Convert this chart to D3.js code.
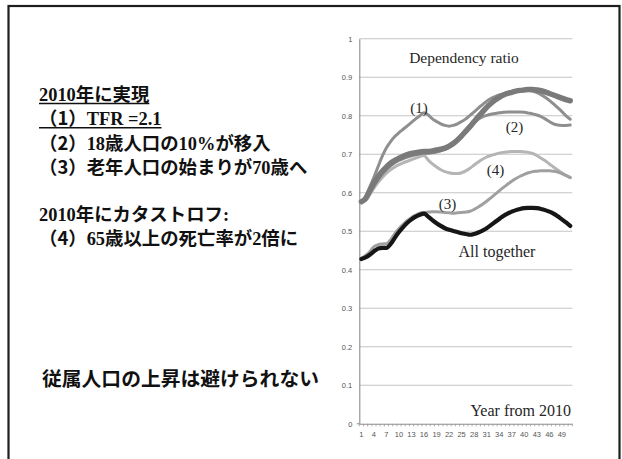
<!DOCTYPE html>
<html>
<head>
<meta charset="utf-8">
<script src="https://cdn.jsdelivr.net/npm/d3@7"></script>
<style>
  html, body { margin: 0; padding: 0; background: #fff; }
  svg { display: block; }
</style>
</head>
<body>
<svg id="slide" width="622" height="459"></svg>
<script>
// Years from 2010 (category index 1..51)
const years = d3.range(1, 52);
const xTickLabels = [1, 4, 7, 10, 13, 16, 19, 22, 25, 28, 31, 34, 37, 40, 43, 46, 49];
const yTicks = [0, 0.1, 0.2, 0.3, 0.4, 0.5, 0.6, 0.7, 0.8, 0.9, 1];

// Dependency ratio by scenario
const baseline = [0.577,0.585,0.605,0.625,0.642,0.656,0.667,0.677,0.684,0.690,0.695,0.699,0.702,0.704,0.706,0.707,0.707,0.709,0.711,0.713,0.716,0.721,0.728,0.737,0.748,0.760,0.772,0.785,0.798,0.810,0.822,0.832,0.841,0.848,0.854,0.858,0.861,0.864,0.866,0.867,0.868,0.868,0.867,0.865,0.862,0.858,0.854,0.850,0.846,0.842,0.839];
const tfr21 = [0.577,0.590,0.615,0.640,0.668,0.695,0.717,0.733,0.746,0.756,0.765,0.774,0.783,0.792,0.800,0.808,0.802,0.792,0.785,0.779,0.775,0.773,0.775,0.779,0.785,0.792,0.801,0.810,0.820,0.829,0.838,0.845,0.850,0.854,0.857,0.860,0.863,0.865,0.866,0.867,0.866,0.864,0.860,0.855,0.848,0.840,0.831,0.821,0.811,0.800,0.791];
const migration = [0.577,0.583,0.600,0.618,0.634,0.648,0.660,0.670,0.678,0.684,0.689,0.693,0.696,0.699,0.701,0.703,0.703,0.704,0.706,0.709,0.713,0.718,0.726,0.737,0.749,0.762,0.773,0.783,0.791,0.797,0.801,0.804,0.806,0.808,0.809,0.810,0.810,0.810,0.810,0.809,0.807,0.805,0.802,0.798,0.792,0.785,0.779,0.776,0.775,0.775,0.776];
const oldAge70 = [0.430,0.437,0.447,0.460,0.465,0.467,0.468,0.478,0.494,0.507,0.518,0.528,0.536,0.542,0.547,0.549,0.550,0.551,0.551,0.550,0.549,0.548,0.547,0.548,0.549,0.550,0.552,0.557,0.563,0.570,0.578,0.587,0.596,0.605,0.614,0.622,0.630,0.637,0.643,0.648,0.652,0.655,0.656,0.657,0.657,0.657,0.656,0.654,0.650,0.645,0.640];
const mortality2x = [0.577,0.580,0.595,0.612,0.627,0.640,0.651,0.660,0.667,0.673,0.678,0.682,0.686,0.690,0.694,0.697,0.685,0.675,0.667,0.660,0.655,0.652,0.650,0.650,0.652,0.657,0.664,0.672,0.680,0.687,0.693,0.697,0.700,0.703,0.705,0.706,0.707,0.707,0.707,0.706,0.705,0.702,0.697,0.690,0.683,0.675,0.667,0.659,0.652,0.645,0.639];
const allTogether = [0.428,0.432,0.439,0.448,0.455,0.457,0.457,0.467,0.483,0.498,0.511,0.522,0.531,0.538,0.543,0.546,0.538,0.529,0.521,0.514,0.508,0.504,0.501,0.498,0.495,0.493,0.491,0.493,0.497,0.502,0.508,0.516,0.524,0.532,0.540,0.546,0.551,0.555,0.558,0.560,0.561,0.561,0.560,0.558,0.555,0.551,0.546,0.539,0.531,0.523,0.514];

const svg = d3.select("#slide");

// slide frame
svg.append("rect")
  .attr("x", 8.5).attr("y", 6).attr("width", 611).attr("height", 470)
  .attr("fill", "none").attr("stroke", "#1e1e1e").attr("stroke-width", 2.2);

// ---- chart ----
const plot = { left: 359.3, right: 572.3, top: 38.8, bottom: 423.8 };
const x = d3.scaleBand().domain(years).range([plot.left, plot.right]).padding(0);
const y = d3.scaleLinear().domain([0, 1]).range([plot.bottom, plot.top]);
const cx = d => x(d) + x.bandwidth() / 2;

const chart = svg.append("g");

// horizontal gridlines
chart.append("g")
  .selectAll("line")
  .data(yTicks.filter(d => d > 0))
  .join("line")
  .attr("x1", plot.left).attr("x2", plot.right)
  .attr("y1", d => y(d)).attr("y2", d => y(d))
  .attr("stroke", "#c4c4c4").attr("stroke-width", 1.1);

// y axis
const yAxis = chart.append("g")
  .attr("transform", `translate(${plot.left},0)`)
  .call(d3.axisLeft(y).tickValues(yTicks).tickSize(0).tickPadding(7).tickFormat(d3.format("~g")));
yAxis.select(".domain").attr("stroke", "#8c8c8c").attr("stroke-width", 1.1);
yAxis.selectAll("text")
  .attr("font-family", "Liberation Sans, Arial, sans-serif")
  .attr("font-size", 7.5).attr("fill", "#555");

// small tick at zero
chart.append("line")
  .attr("x1", plot.left - 2.5).attr("x2", plot.left)
  .attr("y1", y(0)).attr("y2", y(0))
  .attr("stroke", "#8c8c8c");

// x axis
const xAxis = chart.append("g")
  .attr("transform", `translate(0,${plot.bottom})`)
  .call(d3.axisBottom(x).tickValues(xTickLabels).tickSize(0).tickPadding(8));
xAxis.select(".domain").attr("stroke", "#8c8c8c").attr("stroke-width", 1.1);
xAxis.selectAll("text")
  .attr("font-family", "Liberation Sans, Arial, sans-serif")
  .attr("font-size", 7.5).attr("fill", "#555");

// category boundary tick marks
chart.append("g")
  .selectAll("line")
  .data(years.concat([years.length + 1]))
  .join("line")
  .attr("x1", (d, i) => plot.left + i * x.bandwidth())
  .attr("x2", (d, i) => plot.left + i * x.bandwidth())
  .attr("y1", plot.bottom).attr("y2", plot.bottom + 2.5)
  .attr("stroke", "#9a9a9a").attr("stroke-width", 0.8);

// scenario lines
const line = d3.line()
  .x((d, i) => cx(years[i]))
  .y(d => y(d))
  .curve(d3.curveMonotoneX);

const series = [
  { values: mortality2x, color: "#b5b5b5", width: 3 },
  { values: migration, color: "#8f8f8f", width: 3 },
  { values: tfr21, color: "#8f8f8f", width: 3 },
  { values: baseline, color: "#7a7a7a", width: 5.5 },
  { values: oldAge70, color: "#a0a0a0", width: 3 },
  { values: allTogether, color: "#161616", width: 4.2 }
];

chart.append("g")
  .selectAll("path")
  .data(series)
  .join("path")
  .attr("d", d => line(d.values))
  .attr("fill", "none")
  .attr("stroke", d => d.color)
  .attr("stroke-width", d => d.width)
  .attr("stroke-linejoin", "round")
  .attr("stroke-linecap", "round");

// chart annotations
const serif = "Liberation Serif, 'Times New Roman', serif";
const notes = [
  { text: "Dependency ratio", x: 464, y: 63, size: 15.5, anchor: "middle" },
  { text: "(1)", x: 419, y: 112.5, size: 15, anchor: "middle" },
  { text: "(2)", x: 514.5, y: 132, size: 15, anchor: "middle" },
  { text: "(3)", x: 447.5, y: 209, size: 15, anchor: "middle" },
  { text: "(4)", x: 495.5, y: 174.5, size: 15, anchor: "middle" },
  { text: "All together", x: 497, y: 257, size: 16, anchor: "middle" },
  { text: "Year from 2010", x: 571, y: 415.5, size: 16, anchor: "end" }
];
chart.append("g")
  .selectAll("text")
  .data(notes)
  .join("text")
  .attr("x", d => d.x).attr("y", d => d.y)
  .attr("text-anchor", d => d.anchor)
  .attr("font-family", serif)
  .attr("font-size", d => d.size)
  .attr("fill", "#262626")
  .text(d => d.text);

// ---- left-hand statements ----
const mixed = "'Liberation Serif', 'Noto Sans CJK JP', serif";
const gothic = "'Noto Sans CJK JP', sans-serif";
const statements = [
  { num: null, text: "2010年に実現", y: 101, underline: true },
  { num: "1", text: "TFR =2.1", y: 125.3, underline: true },
  { num: "2", text: "18歳人口の10%が移入", y: 149.6 },
  { num: "3", text: "老年人口の始まりが70歳へ", y: 173.9 },
  { num: null, text: "2010年にカタストロフ:", y: 221 },
  { num: "4", text: "65歳以上の死亡率が2倍に", y: 244.5 }
];
const left = svg.append("g");
statements.forEach(s => {
  const t = left.append("text")
    .attr("x", 39).attr("y", s.y)
    .attr("font-weight", 700)
    .attr("font-size", 18.4)
    .attr("fill", "#111");
  if (s.num) {
    t.append("tspan").attr("font-family", gothic).text("（" + s.num + "）");
  }
  t.append("tspan").attr("font-family", mixed).text(s.text);
  if (s.underline) {
    const w = t.node().getComputedTextLength();
    left.append("line")
      .attr("x1", 39).attr("x2", 39 + w)
      .attr("y1", s.y + 2.5).attr("y2", s.y + 2.5)
      .attr("stroke", "#111").attr("stroke-width", 1.4);
  }
});

left.append("text")
  .attr("x", 42).attr("y", 386)
  .attr("font-family", gothic)
  .attr("font-weight", 700)
  .attr("font-size", 19.8)
  .attr("fill", "#111")
  .text("従属人口の上昇は避けられない");
</script>
</body>
</html>
